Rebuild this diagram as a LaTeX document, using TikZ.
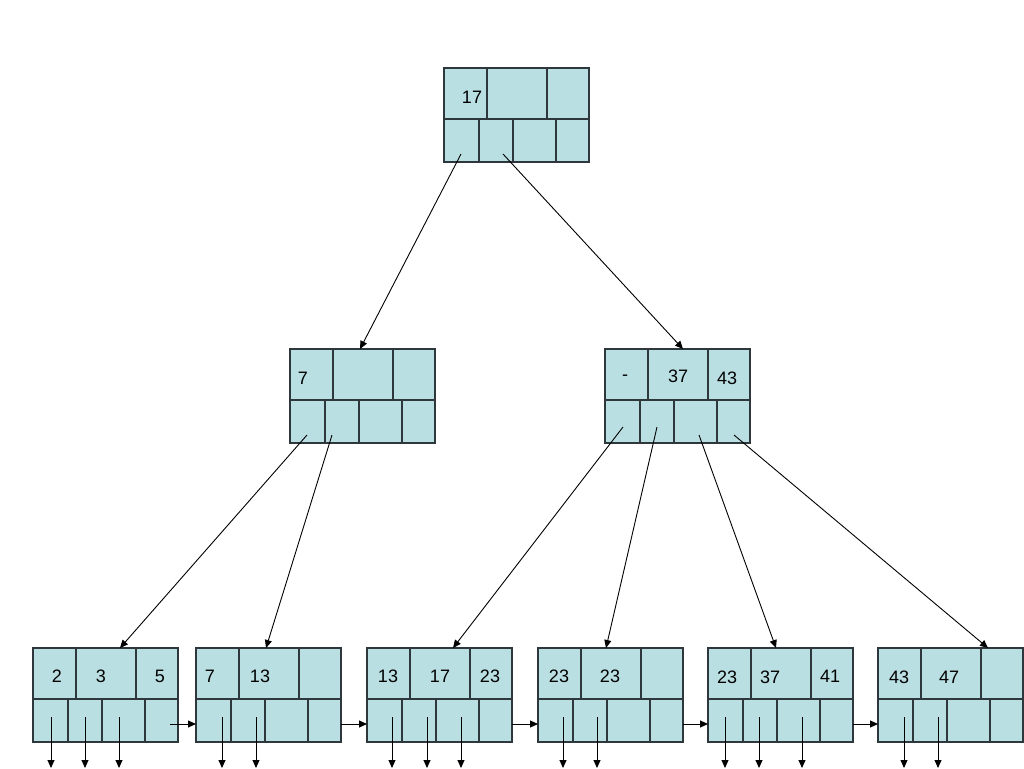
\documentclass[tikz,border=0pt]{standalone}
\usepackage{fontspec}
\setmainfont{Liberation Sans}
\usetikzlibrary{arrows.meta,calc}

\definecolor{cellfill}{RGB}{185,223,227}
\definecolor{cellline}{RGB}{45,55,60}

\tikzset{
  bbox/.style={rectangle, draw=cellline, fill=cellfill, line width=1.1pt,
    minimum width=145pt, minimum height=94pt, inner sep=0pt, outer sep=0pt,
    anchor=north west},
  cell/.style={draw=cellline, line width=1.1pt},
  ptr/.style={-{Triangle[length=8pt,width=7pt]}, line width=0.9pt},
  key/.style={font=\fontsize{18}{21}\selectfont, inner sep=0pt},
}

% one tree node: name, left, top
\newcommand{\bnode}[3]{%
  \node[bbox] (#1) at (#2,#3) {};
  \draw[cell] ($(#1.north west)+(0,51)$) -- ($(#1.north east)+(0,51)$);
  \foreach \dx in {43,103}
    \draw[cell] ($(#1.north west)+(\dx,0)$) -- ($(#1.north west)+(\dx,51)$);
  \foreach \dx in {35,69,112}
    \draw[cell] ($(#1.north west)+(\dx,51)$) -- ($(#1.south west)+(\dx,0)$);
}

\begin{document}
\begin{tikzpicture}[x=1pt,y=-1pt]
  \useasboundingbox (0,0) rectangle (1024,768);

  \bnode{root}{444}{68}
  \bnode{ml}{290}{349}
  \bnode{mr}{605}{349}
  \bnode{l1}{33}{648}
  \bnode{l2}{196}{648}
  \bnode{l3}{367}{648}
  \bnode{l4}{538}{648}
  \bnode{l5}{708}{648}
  \bnode{l6}{878}{648}

  % keys
  \node[key] (root-k1) at (472,97) {17};
  \node[key] (ml-k1) at (303,378) {7};
  \node[key] (mr-k1) at (625,378) {-};
  \node[key] (mr-k2) at (678,376) {37};
  \node[key] (mr-k3) at (727,378) {43};
  \node[key] (l1-k1) at (57,676) {2};
  \node[key] (l1-k2) at (101,676) {3};
  \node[key] (l1-k3) at (160,676) {5};
  \node[key] (l2-k1) at (210,676) {7};
  \node[key] (l2-k2) at (260,676) {13};
  \node[key] (l3-k1) at (388,676) {13};
  \node[key] (l3-k2) at (440,676) {17};
  \node[key] (l3-k3) at (490,676) {23};
  \node[key] (l4-k1) at (559,676) {23};
  \node[key] (l4-k2) at (610,676) {23};
  \node[key] (l5-k1) at (727,677) {23};
  \node[key] (l5-k2) at (770,677) {37};
  \node[key] (l5-k3) at (830,676) {41};
  \node[key] (l6-k1) at (899,677) {43};
  \node[key] (l6-k2) at (949,677) {47};

  % child pointers
  \draw[ptr] ($(root.south west)+(17,-8)$) -- ($(ml.north west)+(70,0)$);
  \draw[ptr] ($(root.south west)+(59,-8)$) -- ($(mr.north west)+(78,0)$);
  \draw[ptr] ($(ml.south west)+(17,-8)$) -- ($(l1.north west)+(87,0)$);
  \draw[ptr] ($(ml.south west)+(42,-8)$) -- ($(l2.north west)+(70,0)$);
  \draw[ptr] ($(mr.south west)+(18,-16)$) -- ($(l3.north west)+(86,0)$);
  \draw[ptr] ($(mr.south west)+(52,-16)$) -- ($(l4.north west)+(68,0)$);
  \draw[ptr] ($(mr.south west)+(94,-8)$) -- ($(l5.north west)+(68,0)$);
  \draw[ptr] ($(mr.south west)+(129,-8)$) -- ($(l6.north west)+(110,0)$);

  % leaf records
  \foreach \dx in {18,52,86}
    \draw[ptr] ($(l1.south west)+(\dx,-25)$) -- ++(0,51);
  \foreach \dx in {26,60}
    \draw[ptr] ($(l2.south west)+(\dx,-25)$) -- ++(0,51);
  \foreach \dx in {25,60,94}
    \draw[ptr] ($(l3.south west)+(\dx,-25)$) -- ++(0,51);
  \foreach \dx in {25,59}
    \draw[ptr] ($(l4.south west)+(\dx,-25)$) -- ++(0,51);
  \foreach \dx in {17,51,94}
    \draw[ptr] ($(l5.south west)+(\dx,-25)$) -- ++(0,51);
  \foreach \dx in {26,60}
    \draw[ptr] ($(l6.south west)+(\dx,-25)$) -- ++(0,51);

  % sibling links
  \draw[ptr] ($(l1.south west)+(137,-18)$) -- ($(l2.south west)+(0,-18)$);
  \foreach \a/\b in {l2/l3,l3/l4,l4/l5,l5/l6}
    \draw[ptr] ($(\a.south east)+(0,-18)$) -- ($(\b.south west)+(0,-18)$);
\end{tikzpicture}
\end{document}
